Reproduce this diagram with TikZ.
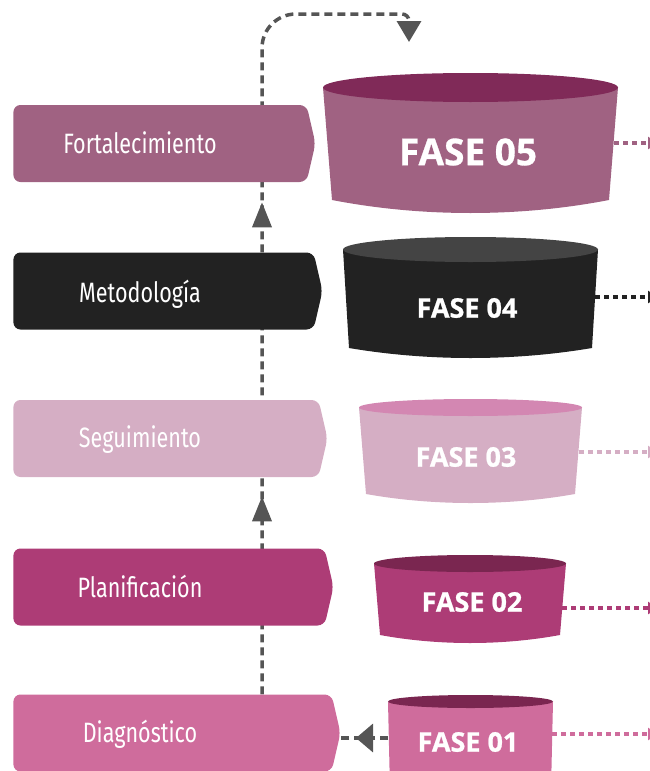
\documentclass[tikz,border=0pt]{standalone}
\usepackage{fontspec}
\newfontfamily\tagfont[FakeStretch=0.77]{Fira Sans}
\newfontfamily\fasefont[BoldFeatures={FakeBold=0.8}]{Open Sans}
\usepackage{tikz}
\usetikzlibrary{arrows.meta,shapes.symbols,decorations.markings,calc}
\pgfdeclarelayer{bg}
\pgfsetlayers{bg,main}

\definecolor{mauve}{HTML}{A06282}
\definecolor{mauvetop}{HTML}{802A58}
\definecolor{ink}{HTML}{222222}
\definecolor{inktop}{HTML}{444444}
\definecolor{rosa}{HTML}{D5AEC4}
\definecolor{rosatop}{HTML}{D387B2}
\definecolor{berry}{HTML}{AD3C76}
\definecolor{plum}{HTML}{7A2650}
\definecolor{pinky}{HTML}{CF6C9C}
\definecolor{flowgray}{HTML}{555555}

% barrel: cx, cy, rx, ry, bottom y, inset, sag, body colour, top colour
\newcommand{\barril}[9]{%
  \fill[#8] (#1-#3,#2) -- (#1-#3+#6,#5)
    .. controls (#1-#3/3,#5+#7*4/3) and (#1+#3/3,#5+#7*4/3) .. (#1+#3-#6,#5)
    -- (#1+#3,#2) -- cycle;
  \fill[#9] (#1,#2) ellipse [x radius=#3, y radius=#4];
}

\tikzset{
  tag/.style={signal, signal to=east, signal pointer angle=154, rounded corners=7pt,
    inner sep=0pt, minimum height=77pt},
  tagtext/.style={text=white, anchor=base, font=\tagfont\fontsize{28}{28}\selectfont},
  fasetext/.style={text=white, font=\fasefont\bfseries\fontsize{27}{27}\selectfont},
  flow/.style={draw=flowgray, line width=3.5pt, dash pattern=on 8pt off 5pt},
  link/.style={line width=4.5pt, dash pattern=on 5pt off 4pt, -{Triangle[length=10pt,width=12pt]}},
  uptip/.tip={Triangle[length=25pt,width=19pt]},
  lefttip/.tip={Triangle[length=17pt,width=28pt]},
}

\begin{document}
\begin{tikzpicture}[x=1pt, y=-1pt]
\useasboundingbox (0,0) rectangle (650,771);

% phases
\barril{470.5}{87.5}{147.5}{14.5}{200}{9}{13}{mauve}{mauvetop}
\barril{470.5}{249.5}{127.5}{12.5}{348}{6}{10}{ink}{inktop}
\barril{470.5}{407.5}{111.5}{8.5}{494}{7}{9}{rosa}{rosatop}
\barril{470}{563.5}{96}{8.5}{635}{6}{8}{berry}{plum}
\barril{470.5}{701.5}{82.5}{6.5}{790}{2}{8}{pinky}{plum}

\node[fasetext, font=\fasefont\bfseries\fontsize{37}{37}\selectfont] (f5) at (468,152) {FASE 05};
\node[fasetext] (f4) at (467,308) {FASE 04};
\node[fasetext] (f3) at (466,457) {FASE 03};
\node[fasetext] (f2) at (472,602) {FASE 02};
\node[fasetext] (f1) at (468,742) {FASE 01};

% stages
\node[tag, fill=mauve, minimum width=302pt] (fort) at (160,143.5) {};
\node[tag, fill=ink, minimum width=309pt] (meto) at (163.5,291) {};
\node[tag, fill=rosa, minimum width=314pt] (segu) at (166,438.5) {};
\node[tag, fill=berry, minimum width=320pt] (plan) at (169,587) {};
\node[tag, fill=pinky, minimum width=327pt] (diag) at (172.5,733) {};

\node[tagtext] (fortx) at (140,153) {Fortalecimiento};
\node[tagtext] (metox) at (140,302) {Metodología};
\node[tagtext] (segux) at (140,447) {Seguimiento};
\node[tagtext] (planx) at (140,597) {Planificación};
\node[tagtext] (diagx) at (140,742) {Diagnóstico};

\coordinate (trunk) at (262,0);
\coordinate (toprow) at (409,14);
\coordinate (loopend) at (409,42);
\coordinate (f1l) at (388,738);

\coordinate (f5r) at (614,143);
\coordinate (f4r) at (595,297);
\coordinate (f3r) at (579,452);
\coordinate (f2r) at (562,608);
\coordinate (f1r) at (552,734);
\coordinate (f5o) at (658,143);
\coordinate (f4o) at (658,297);
\coordinate (f3o) at (658,452);
\coordinate (f2o) at (658,608);
\coordinate (f1o) at (658,734);

\begin{pgfonlayer}{bg}
\draw[flow, -{Triangle[length=21pt,width=24pt]},
  postaction={decorate}, decoration={markings,
    mark=at position 198pt with {\arrow[flowgray]{uptip}},
    mark=at position 492pt with {\arrow[flowgray]{uptip}}}]
  (diag.north -| trunk) [rounded corners=34pt] -- (trunk |- toprow)
  [rounded corners=7pt] -- (toprow) [sharp corners] -- (loopend);
\end{pgfonlayer}
\draw[flow, postaction={decorate}, decoration={markings,
    mark=at position 32pt with {\arrow[flowgray]{lefttip}}}]
  (f1l) -- (diag.east |- f1l);

\draw[link, draw=mauve] (f5r) -- (f5o);
\draw[link, draw=ink] (f4r) -- (f4o);
\draw[link, draw=rosa] (f3r) -- (f3o);
\draw[link, draw=berry] (f2r) -- (f2o);
\draw[link, draw=pinky] (f1r) -- (f1o);
\end{tikzpicture}
\end{document}
